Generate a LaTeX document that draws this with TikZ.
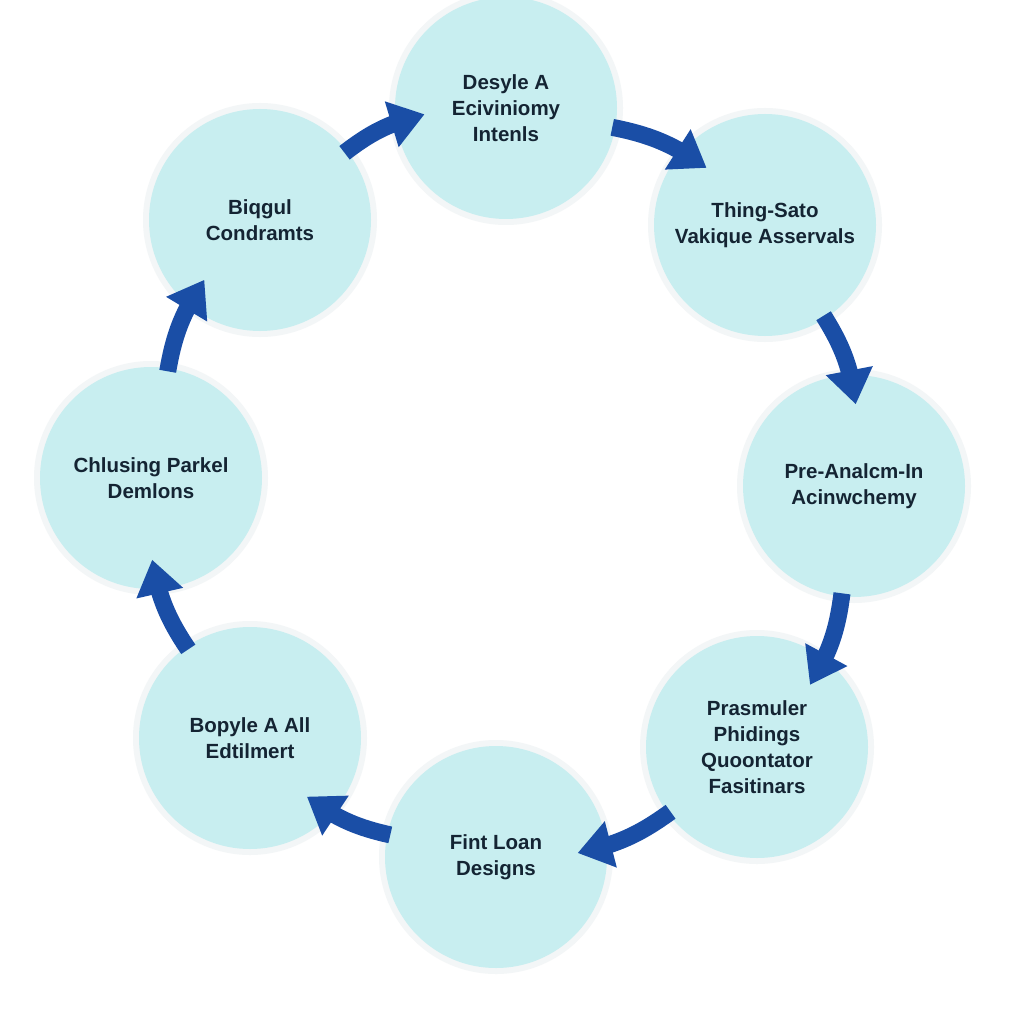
\documentclass[tikz,border=0pt]{standalone}
\usepackage{fontspec}
\setmainfont{Liberation Sans}
\usetikzlibrary{arrows.meta,calc,bending}
\definecolor{cfill}{HTML}{C8EEF0}
\definecolor{ablue}{HTML}{1A4EA6}
\definecolor{ctext}{HTML}{142433}
\definecolor{halo}{HTML}{F3F6F7}
\tikzset{
  stage/.style={circle, fill=cfill, minimum size=222pt, inner sep=0pt, align=center,
    text=ctext, font=\bfseries\fontsize{20.5}{26}\selectfont},
  flow/.style={draw=ablue, line width=17pt,
    -{Triangle[length=34pt,width=48pt,line width=0pt,flex]}, ablue}
}
\newcommand{\flowarrow}[2]{%
  \draw[flow] ($(#1.center)!108pt!14:(#2.center)$) to[bend left=12] ($(#2.center)!82pt!-20:(#1.center)$);}
\begin{document}
\begin{tikzpicture}[x=1pt,y=1pt]
\useasboundingbox (0,0) rectangle (1024,-1024);
\fill[white] (0,0) rectangle (1024,-1024);
% soft halos
\foreach \x/\y in {506/108,765/225,854/486,757/747,496/857,250/738,151/478,260/220}{
  \fill[halo] (\x,-\y) circle (117pt);
}
\node[stage] (n1) at (506,-108) {Desyle A\\Eciviniomy\\Intenls};
\node[stage] (n2) at (765,-225) {Thing-Sato\\Vakique Asservals};
\node[stage] (n3) at (854,-486) {Pre-Analcm-In\\Acinwchemy};
\node[stage] (n4) at (757,-747) {Prasmuler\\Phidings\\Quoontator\\Fasitinars};
\node[stage] (n5) at (496,-857) {Fint Loan\\Designs};
\node[stage] (n6) at (250,-738) {Bopyle A All\\Edtilmert};
\node[stage] (n7) at (151,-478) {Chlusing Parkel\\Demlons};
\node[stage] (n8) at (260,-220) {Biqgul\\Condramts};
\flowarrow{n8}{n1}
\flowarrow{n1}{n2}
\flowarrow{n2}{n3}
\flowarrow{n3}{n4}
\flowarrow{n4}{n5}
\flowarrow{n5}{n6}
\flowarrow{n6}{n7}
\flowarrow{n7}{n8}
\end{tikzpicture}
\end{document}
